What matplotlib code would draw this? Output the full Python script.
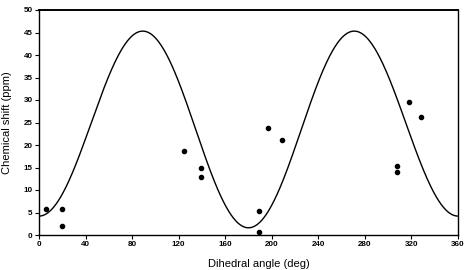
# ===================
# Part 1: Importing Libraries
# ===================
import numpy as np
import matplotlib.pyplot as plt

plt.rcParams['font.family'] = ['Liberation Sans', 'DejaVu Sans']

# ===================
# Part 2: Data Preparation
# ===================
# Measured points (dihedral angle, chemical shift)
angle_obs = [6, 20, 20, 125, 139.5, 139.5, 189, 189, 197, 208.5, 307.5, 307.5, 317.5, 328.5]
shift_obs = [5.8, 5.8, 2.1, 18.6, 14.8, 12.8, 5.4, 0.7, 23.7, 21.2, 15.3, 13.9, 29.6, 26.3]

# Karplus-type fitted curve: A*sin^2(theta) + B*cos(theta) + C
coef_A = 42.4
coef_B = 1.3
coef_C = 2.9
theta = np.linspace(0, 360, 721)
rad = np.deg2rad(theta)
shift_fit = coef_A * np.sin(rad) ** 2 + coef_B * np.cos(rad) + coef_C

xticks = np.arange(0, 361, 40)
yticks = np.arange(0, 51, 5)
xlabel = "Dihedral angle (deg)"
ylabel = "Chemical shift (ppm)"

# ===================
# Part 3: Plot Configuration and Rendering
# ===================
fig = plt.figure(figsize=(4.66, 2.70), dpi=100)
ax = fig.add_axes([39 / 466, 1 - 235 / 270, 419 / 466, 225 / 270])

ax.plot(theta, shift_fit, color="black", linewidth=1.0)
ax.plot(angle_obs, shift_obs, linestyle="none", marker="o", markersize=3, color="black")

ax.set_xlim(0, 360)
ax.set_ylim(0, 50)
ax.set_xticks(xticks)
ax.set_yticks(yticks)
ax.tick_params(direction="out", length=3, width=0.8, pad=1.5, labelsize=5.8)
for lbl in ax.get_xticklabels() + ax.get_yticklabels():
    lbl.set_fontweight("bold")
for side in ["left", "bottom", "right"]:
    ax.spines[side].set_linewidth(1.0)
ax.spines["top"].set_linewidth(1.4)

fig.text(7 / 466, 1 - 123 / 270, ylabel, rotation=90, ha="center", va="center", fontsize=8)
# x label sits at the very bottom edge, as in the reference
fig.text(259 / 466, 1 / 270, xlabel, ha="center", va="bottom", fontsize=8)

# ===================
# Part 4: Saving Output
# ===================
plt.savefig("out.png", dpi=100)
